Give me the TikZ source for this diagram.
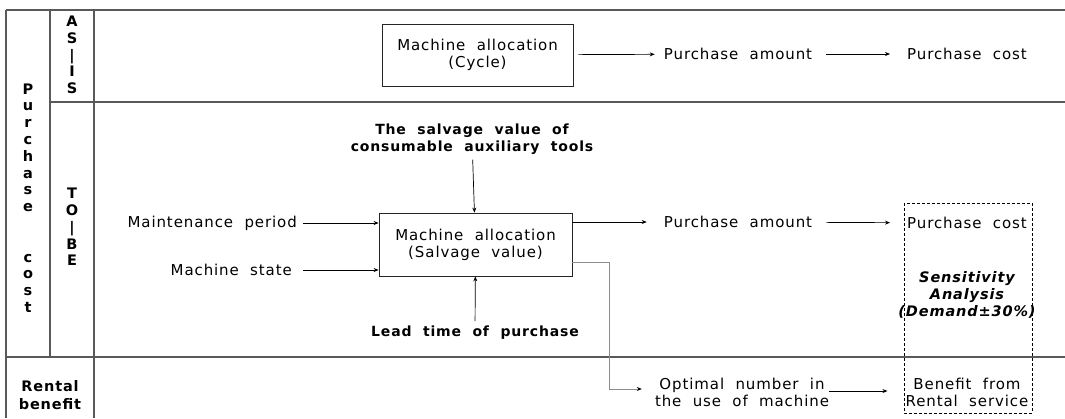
\documentclass[tikz,border=0pt]{standalone}
\usepackage{fontspec}
\setmainfont{DejaVu Sans}[LetterSpace=6,WordSpace=2]
\usetikzlibrary{arrows.meta,positioning}

\begin{document}
\begin{tikzpicture}[x=1pt,y=-1pt,font=\fontsize{15}{17}\selectfont,box/.style={draw=black!85,line width=0.8pt,align=center,inner sep=2pt},lbl/.style={inner sep=0pt,align=center},bold/.style={lbl,font=\fontsize{14}{17}\selectfont\bfseries},vert/.style={align=center,inner sep=0pt,font=\fontsize{14.5}{16.8}\selectfont\bfseries},arr/.style={-{Stealth[length=5pt,width=4pt,black]},draw=black,line width=0.7pt},garr/.style={arr,draw=black!45},rule/.style={draw=black!65,line width=1.2pt},sabox/.style={draw=black,densely dashed,line width=0.7pt}]
\useasboundingbox (0,0) rectangle (1065,418);
\draw[rule](6,10)--(1065,10);\draw[rule](50,102)--(1065,102);\draw[rule](6,357)--(1065,357);
\draw[rule](6,10)--(6,418);\draw[rule](50,10)--(50,357);\draw[rule](94,10)--(94,418);
\node[vert] (pcost) at (28,198) {P\\u\\r\\c\\h\\a\\s\\e\\[33.6pt]c\\o\\s\\t};
\node[vert] (asis) at (72,55) {A\\S\\|\\I\\S};
\node[vert] (tobe) at (72,227) {T\\O\\|\\B\\E};
\node[vert,font=\fontsize{14.5}{18}\selectfont\bfseries] (rental) at (50,395) {Rental\\benefit};
\node[box,minimum width=191,minimum height=62] (cyc) at (477.5,55) {Machine allocation\\(Cycle)};
\node[lbl] (pa1) at (738,54) {Purchase amount};
\node[lbl] (pc1) at (967,54) {Purchase cost};
\node[box,minimum width=193,minimum height=63] (sal) at (475.5,244.5) {Machine allocation\\(Salvage value)};
\node[bold] (tools) at (472,139) {The salvage value of\\consumable auxiliary tools};
\node[bold] (lead) at (475,333) {Lead time of purchase};
\node[lbl,anchor=east] (maint) at (297,223) {Maintenance period};
\node[lbl,anchor=east] (state) at (292,270) {Machine state};
\node[lbl] (pa2) at (738,222) {Purchase amount};
\node[lbl] (pc2) at (967,223) {Purchase cost};
\node[bold,font=\fontsize{14.5}{17}\selectfont\bfseries\itshape] (sens) at (967,295) {Sensitivity\\Analysis\\(Demand±30\%)};
\node[lbl] (opt) at (742,392) {Optimal number in\\the use of machine};
\node[lbl] (benefit) at (967,392) {Benefit from\\Rental service};
\draw[sabox](904,203) rectangle (1032,413);
\draw[arr,shorten <=5pt,shorten >=9pt](cyc)--(pa1);\draw[arr,shorten <=14pt,shorten >=17pt](pa1)--(pc1);
\draw[arr,shorten <=6pt](maint.east)--(maint.east -| sal.west);\draw[arr,shorten <=11pt](state.east)--(state.east -| sal.west);
\draw[arr,shorten <=5pt](tools)--(sal);\draw[arr,shorten <=5pt](lead)--(sal);
\draw[arr,shorten >=17pt](sal.east |- pa2.west)--(pa2.west);\draw[arr,shorten <=14pt,shorten >=17pt](pa2)--(pc2);
\draw[garr,shorten >=13pt]([yshift=-17.5pt]sal.east)--++(37,0)|-([yshift=3pt]opt.west);\draw[arr,shorten >=18pt]([yshift=1pt]opt.east)--([yshift=1pt]benefit.west);
\end{tikzpicture}
\end{document}
